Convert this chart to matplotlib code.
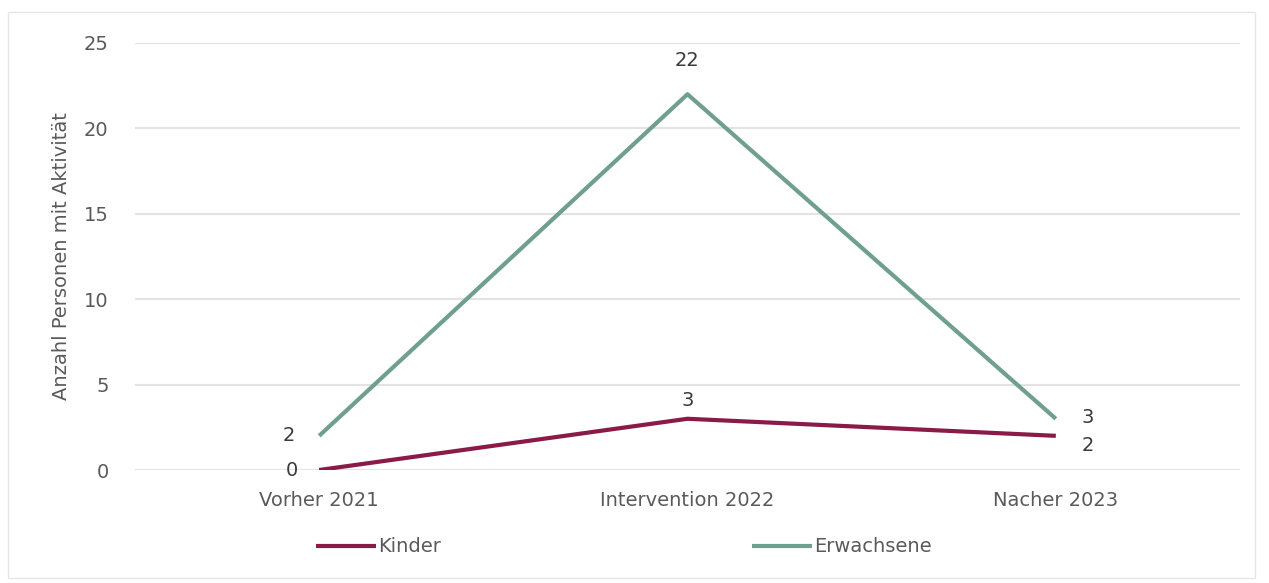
import matplotlib
matplotlib.use("Agg")
import matplotlib.pyplot as plt
from matplotlib.patches import Rectangle

plt.rcParams['font.family'] = ['DejaVu Sans']

categories = ["Vorher 2021", "Intervention 2022", "Nacher 2023"]
kinder = [0, 3, 2]
erwachsene = [2, 22, 3]
y_ticks = [0, 5, 10, 15, 20, 25]

col_kinder = "#8a1a48"
col_erw = "#6f9f8f"
text_col = "#5a5a5a"
label_col = "#3a3a3a"

fig = plt.figure(figsize=(12.69, 5.83), dpi=100)
fig.patches.append(Rectangle((8 / 1269, 5 / 583), 1247 / 1269, 566 / 583,
                             transform=fig.transFigure, fill=False,
                             edgecolor="#e6e6e6", linewidth=1))
ax = fig.add_axes([135 / 1269, 1 - 470 / 583, 1105 / 1269, 427 / 583])

x = list(range(len(categories)))
l1, = ax.plot(x, kinder, color=col_kinder, linewidth=3, solid_capstyle="butt", label="Kinder", zorder=3)
l2, = ax.plot(x, erwachsene, color=col_erw, linewidth=3, solid_capstyle="butt", label="Erwachsene", zorder=3)

fs = 14
ax.set_xlim(-0.5, 2.5)
ax.set_ylim(0, 25)
ax.set_yticks(y_ticks)
ax.set_xticks(x)
ax.set_xticklabels(categories)
ax.tick_params(axis="both", length=0, labelsize=fs, colors=text_col)
ax.tick_params(axis="y", pad=19)
ax.tick_params(axis="x", pad=15)
ax.yaxis.grid(True, color="#e3e3e3", linewidth=1.5)
ax.set_axisbelow(True)
for s in ax.spines.values():
    s.set_visible(False)
ax.set_ylabel("Anzahl Personen mit Aktivität", fontsize=fs, color=text_col)
ax.yaxis.set_label_coords(-0.058, 0.5)

# value labels next to each point
def put(val, xi, dx, dy):
    ax.annotate(str(val), (xi, val), xytext=(dx, dy), textcoords="offset points",
                ha="center", va="center", fontsize=fs, color=label_col)

put(erwachsene[0], 0, -22, 0)
put(erwachsene[1], 1, 0, 24)
put(erwachsene[2], 2, 23, 1)
put(kinder[0], 0, -20, 0)
put(kinder[1], 1, 0, 13)
put(kinder[2], 2, 23, -7)

leg_kw = dict(frameon=False, fontsize=fs, handletextpad=0.1,
              labelcolor=text_col, borderpad=0, borderaxespad=0)
fig.legend(handles=[l1], loc="center left", bbox_to_anchor=(316 / 1269, 1 - 547 / 583),
           handlelength=3.1, **leg_kw)
fig.legend(handles=[l2], loc="center left", bbox_to_anchor=(752 / 1269, 1 - 547 / 583),
           handlelength=3.1, **leg_kw)

fig.savefig("out.png", dpi=100, facecolor="white")
